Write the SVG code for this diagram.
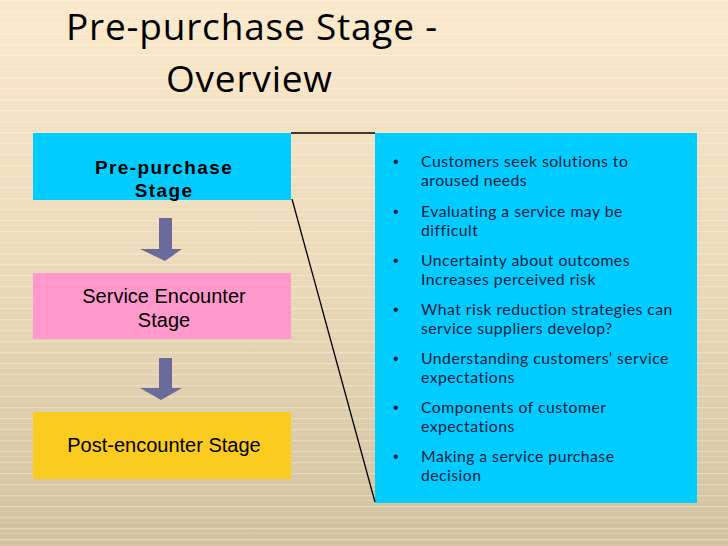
<svg xmlns="http://www.w3.org/2000/svg" width="728" height="546" viewBox="0 0 728 546">
<defs>
<linearGradient id="bg" x1="0" y1="0" x2="0" y2="1">
<stop offset="0" stop-color="#FBE9CB"/>
<stop offset="0.5" stop-color="#EBDAB8"/>
<stop offset="1" stop-color="#D1C29F"/>
</linearGradient>
<pattern id="lines" x="0" y="0" width="728" height="11" patternUnits="userSpaceOnUse">
<rect x="0" y="0" width="728" height="1.2" fill="#FFFFFF" opacity="0.3"/>
<rect x="0" y="5" width="728" height="1" fill="#FFFFFF" opacity="0.1"/>
</pattern>
</defs>
<style>
.title{font-family:"Open Sans",Lato,"Liberation Sans",sans-serif;font-size:37px;letter-spacing:0.8px;fill:#000}
.stage{font-family:"Liberation Sans",Arial,sans-serif;font-size:20px;fill:#000;text-anchor:middle}
.bold{font-weight:bold;font-size:19px;letter-spacing:1.4px}
.bul{font-family:Lato,"Open Sans","Liberation Sans",sans-serif;font-size:15.8px;letter-spacing:0.45px;fill:#14213D}
.dot{font-family:"Liberation Sans",Arial,sans-serif;font-size:16px;fill:#14213D}
.arrow{fill:#6B6B9B}
.conn{stroke:#000;stroke-width:1.3;fill:none}
</style>
<rect width="728" height="546" fill="url(#bg)"/>
<rect width="728" height="546" fill="url(#lines)"/>

<g id="title">
<text class="title" x="66" y="40">Pre-purchase Stage -</text>
<text class="title" x="166" y="92">Overview</text>
</g>

<g id="node-prepurchase">
<rect x="33" y="133" width="258" height="67" fill="#00CCFF"/>
<text class="stage bold" x="164" y="174">Pre-purchase<tspan x="164" dy="23">Stage</tspan></text>
</g>

<g id="node-encounter">
<rect x="33" y="273" width="258" height="66" fill="#FF99CC"/>
<text class="stage" x="164" y="303">Service Encounter<tspan x="164" dy="24">Stage</tspan></text>
</g>

<g id="node-post">
<rect x="33" y="412" width="258" height="67" fill="#F9CC1F"/>
<text class="stage" x="164" y="452">Post-encounter Stage</text>
</g>

<g id="node-details">
<rect x="375" y="133" width="322" height="370" fill="#00CCFF"/>
<g class="dot">
<text x="393" y="167">•</text>
<text x="393" y="217">•</text>
<text x="393" y="266">•</text>
<text x="393" y="315">•</text>
<text x="393" y="364">•</text>
<text x="393" y="413">•</text>
<text x="393" y="462">•</text>
</g>
<g class="bul">
<text x="421" y="167">Customers seek solutions to<tspan x="421" dy="19">aroused needs</tspan></text>
<text x="421" y="217">Evaluating a service may be<tspan x="421" dy="19">difficult</tspan></text>
<text x="421" y="266">Uncertainty about outcomes<tspan x="421" dy="19">Increases perceived risk</tspan></text>
<text x="421" y="315">What risk reduction strategies can<tspan x="421" dy="19">service suppliers develop?</tspan></text>
<text x="421" y="364">Understanding customers’ service<tspan x="421" dy="19">expectations</tspan></text>
<text x="421" y="413">Components of customer<tspan x="421" dy="19">expectations</tspan></text>
<text x="421" y="462">Making a service purchase<tspan x="421" dy="19">decision</tspan></text>
</g>
</g>

<g id="connectors">
<polygon class="arrow" points="159,218 172,218 172,249 182,249 165,261 140,249 159,249"/>
<polygon class="arrow" points="159,358 172,358 172,388 182,388 161,400 140,388 159,388"/>
<line class="conn" x1="291" y1="133" x2="375" y2="133"/>
<line class="conn" x1="292" y1="199" x2="375" y2="502"/>
</g>
</svg>
